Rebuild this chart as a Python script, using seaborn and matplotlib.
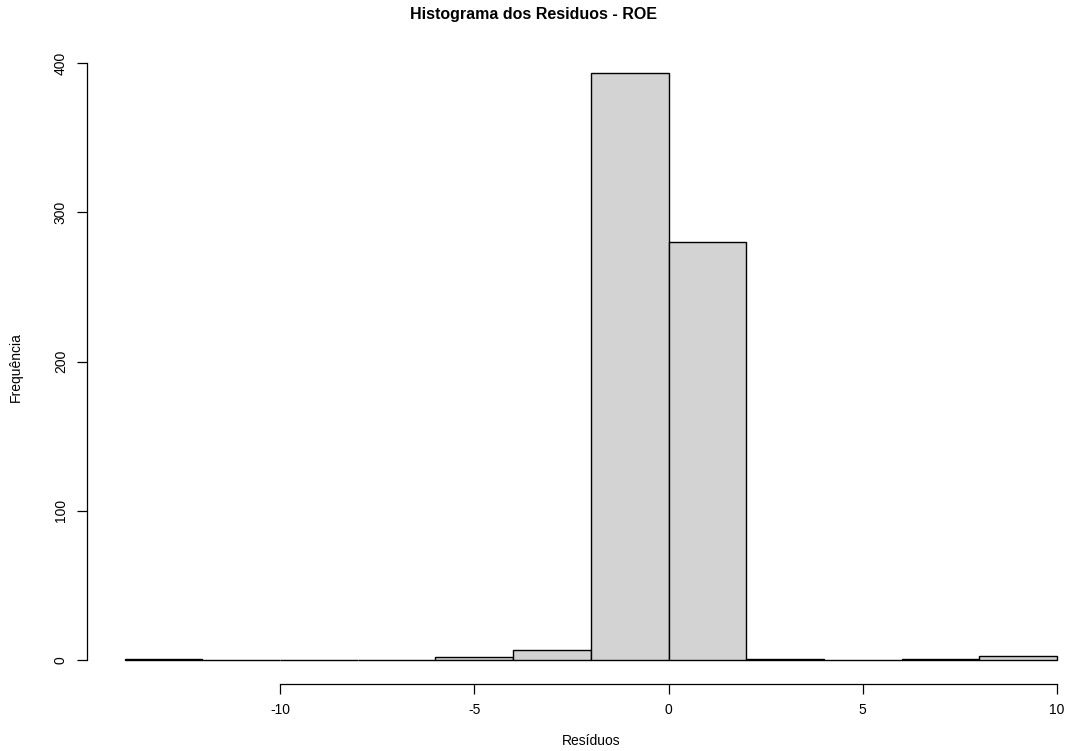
import numpy as np
import pandas as pd
import matplotlib
matplotlib.use("Agg")
import matplotlib.pyplot as plt
import seaborn as sns

# histogram bins (width 2) and counts
bin_edges = [-14, -12, -10, -8, -6, -4, -2, 0, 2, 4, 6, 8, 10]
counts = [1, 0, 0, 0, 2, 7, 393, 280, 1, 0, 1, 3]
x_ticks = [-10, -5, 0, 5, 10]
y_ticks = [0, 100, 200, 300, 400]

sns.set_style("white")
plt.rcParams["font.family"] = ["Liberation Sans", "DejaVu Sans"]
plt.rcParams["axes.unicode_minus"] = False
plt.rcParams["text.color"] = "black"
plt.rcParams["axes.labelcolor"] = "black"
plt.rcParams["xtick.color"] = "black"
plt.rcParams["ytick.color"] = "black"

centers = [(a + b) / 2 for a, b in zip(bin_edges[:-1], bin_edges[1:])]
df = pd.DataFrame({"residuo": centers, "n": counts})

fig = plt.figure(figsize=(10.68, 7.51), dpi=100)
ax = fig.add_axes([87.3 / 1068, (751 - 683.5) / 751, 1007 / 1068, 633.5 / 751])

sns.histplot(data=df, x="residuo", weights="n", bins=bin_edges, ax=ax,
             color="#D3D3D3", edgecolor="black", linewidth=1.0, alpha=1.0)

# R-style 4% padding
xr = bin_edges[-1] - bin_edges[0]
ymax = max(counts)
ax.set_xlim(bin_edges[0] - 0.04 * xr, bin_edges[-1] + 0.04 * xr)
ax.set_ylim(-0.04 * ymax, ymax * 1.04)

for s in ["top", "right"]:
    ax.spines[s].set_visible(False)
ax.spines["bottom"].set_bounds(x_ticks[0], x_ticks[-1])
ax.spines["left"].set_bounds(y_ticks[0], y_ticks[-1])
for s in ["bottom", "left"]:
    ax.spines[s].set_color("black")
    ax.spines[s].set_linewidth(0.9)

ax.set_xticks(x_ticks)
ax.set_yticks(y_ticks)
ax.tick_params(axis="both", direction="out", length=7, width=0.9, color="black",
               labelsize=10, bottom=True, left=True, pad=7)
for lbl in ax.get_yticklabels():
    lbl.set_rotation(90)
    lbl.set_va("center")

ax.set_xlabel("Resíduos", fontsize=10, labelpad=12)
ax.set_ylabel("Frequência", fontsize=10, labelpad=22)
fig.text(0.5, 1 - 15 / 751, "Histograma dos Residuos - ROE", ha="center", va="center",
         fontsize=11.5, fontweight="bold")

fig.savefig("out.png", dpi=100)
